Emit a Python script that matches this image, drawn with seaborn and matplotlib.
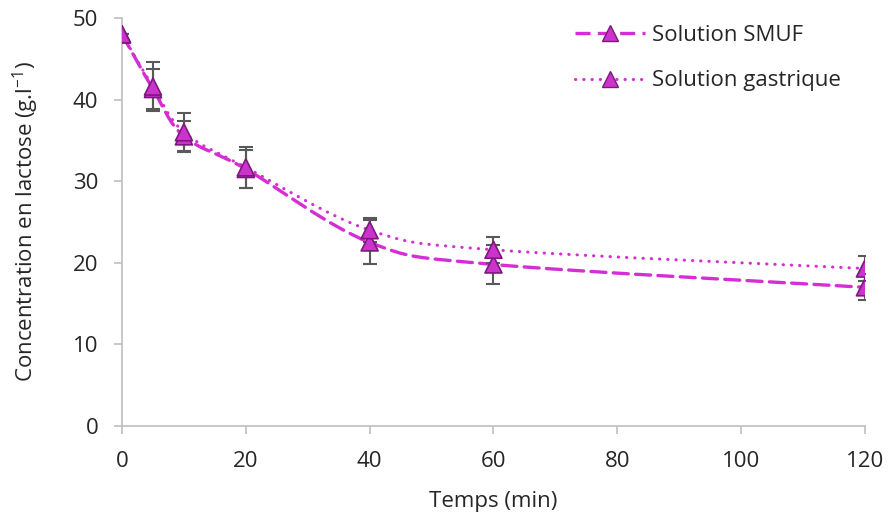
import numpy as np
import pandas as pd
import matplotlib
matplotlib.use("Agg")
import matplotlib.pyplot as plt
import seaborn as sns
from matplotlib.path import Path
from matplotlib.patches import PathPatch
from matplotlib.lines import Line2D

# données
temps = [0, 5, 10, 20, 40, 60, 120]
smuf = [48.0, 41.3, 35.5, 31.5, 22.5, 19.8, 17.0]
smuf_err = [0, 2.5, 1.9, 2.3, 2.7, 2.4, 1.6]
gastrique = [48.0, 41.6, 36.0, 31.7, 24.0, 21.6, 19.3]
gastrique_err = [0, 3.0, 2.3, 2.5, 1.5, 1.6, 1.5]

sns.set_style("white")
plt.rcParams['font.family'] = ['Open Sans', 'DejaVu Sans']

df = pd.DataFrame({
    "Temps": temps * 2,
    "Concentration": smuf + gastrique,
    "Série": ["Solution SMUF"] * len(temps) + ["Solution gastrique"] * len(temps),
})

ligne_col = '#D42ED4'
marq_col = '#CC33CC'
bord_col = '#7A1A7A'
err_col = '#595959'
texte_col = '#262626'
taille = 16


def courbe_lissee(x, y):
    # lissage type Excel (Bezier, tension 1/6)
    pts = np.column_stack([x, y]).astype(float)
    n = len(pts)
    verts = [pts[0]]
    codes = [Path.MOVETO]
    for i in range(n - 1):
        p0 = pts[max(i - 1, 0)]
        p1 = pts[i]
        p2 = pts[i + 1]
        p3 = pts[min(i + 2, n - 1)]
        c1 = p1 + (p2 - p0) / 6
        c2 = p2 - (p3 - p1) / 6
        verts += [c1, c2, p2]
        codes += [Path.CURVE4] * 3
    return Path(verts, codes)


fig, ax = plt.subplots(figsize=(8.88, 5.15), dpi=100)
fig.subplots_adjust(left=0.1374, right=0.974, bottom=0.1728, top=0.965)

ax.add_patch(PathPatch(courbe_lissee(temps, smuf), fill=False, edgecolor=ligne_col,
                       lw=2.4, linestyle=(0, (4.5, 2.2)), zorder=2, capstyle='round'))
ax.add_patch(PathPatch(courbe_lissee(temps, gastrique), fill=False, edgecolor=ligne_col,
                       lw=2.2, linestyle=(0, (0.1, 2.6)), zorder=2, capstyle='round'))

for vals, errs in [(smuf, smuf_err), (gastrique, gastrique_err)]:
    ax.errorbar(temps, vals, yerr=errs, fmt='none', ecolor=err_col, elinewidth=1.5,
                capsize=5, capthick=1.5, zorder=3)

sns.scatterplot(data=df, x="Temps", y="Concentration", hue="Série", marker='^', s=150,
                palette=[marq_col, marq_col], edgecolor=bord_col, linewidth=1.2,
                legend=False, ax=ax, zorder=4)

ax.set_xlim(0, 120)
ax.set_ylim(0, 50)
ax.set_xticks(np.arange(0, 121, 20))
ax.set_yticks(np.arange(0, 51, 10))
ax.tick_params(axis='both', colors='#BFBFBF', labelcolor=texte_col, labelsize=taille,
               direction='out', length=6, width=1.2, bottom=True, left=True)
ax.tick_params(axis='y', pad=11)
ax.tick_params(axis='x', pad=12)
for side in ['top', 'right']:
    ax.spines[side].set_visible(False)
for side in ['left', 'bottom']:
    ax.spines[side].set_color('#BFBFBF')
    ax.spines[side].set_linewidth(1.2)

ax.set_xlabel("Temps (min)", fontsize=taille, color=texte_col, labelpad=14)
ax.set_ylabel(r"Concentration en lactose (g.l$^{\mathregular{-1}}$)", fontsize=taille,
              color=texte_col, labelpad=23)

handles = [
    Line2D([], [], color=ligne_col, lw=2.4, linestyle=(0, (4.5, 2.2)), marker='^',
           markersize=11, markerfacecolor=marq_col, markeredgecolor=bord_col),
    Line2D([], [], color=ligne_col, lw=2.2, linestyle=(0, (0.1, 2.6)), marker='^',
           markersize=11, markerfacecolor=marq_col, markeredgecolor=bord_col,
           dash_capstyle='round'),
]
ax.legend(handles, ["Solution SMUF", "Solution gastrique"], loc='upper left',
          bbox_to_anchor=(575 / 888, 1 - 25 / 515), bbox_transform=fig.transFigure,
          frameon=False, fontsize=taille, handlelength=3.15, borderpad=0,
          borderaxespad=0, labelspacing=1.1, handletextpad=0.3, labelcolor=texte_col)

fig.savefig("out.png", dpi=100)
